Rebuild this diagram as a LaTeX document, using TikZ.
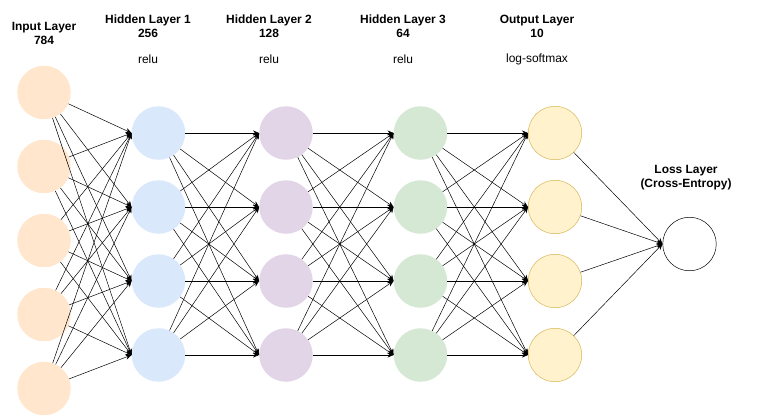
\documentclass[tikz,border=0pt]{standalone}
\usepackage{fontspec}
\setmainfont{Liberation Sans}
\usepackage{xcolor}
\usetikzlibrary{arrows.meta}

\definecolor{inputfill}{HTML}{FFE6CC}
\definecolor{hidafill}{HTML}{DAE8FC}
\definecolor{hidbfill}{HTML}{E1D5E7}
\definecolor{hidcfill}{HTML}{D5E8D4}
\definecolor{outfill}{HTML}{FFF2CC}
\definecolor{outline}{HTML}{D6B656}

\tikzset{
  neuron/.style={circle, minimum size=53.5bp, inner sep=0pt},
  title/.style={font=\bfseries\fontsize{12}{14}\selectfont, align=center, inner sep=0pt},
  actlabel/.style={font=\fontsize{12}{14}\selectfont, inner sep=0pt},
  link/.style={line width=0.5pt, -{Stealth[length=6bp,width=5bp]}}
}

\begin{document}
\begin{tikzpicture}[x=1bp, y=-1bp]
        \useasboundingbox (0,0) rectangle (770,415);

        % neurons
        \foreach \i in {0,...,4}
            \node[neuron, fill=inputfill] (in\i) at (44, 92.5+74*\i) {};
        \foreach \i in {0,...,3} {
            \node[neuron, fill=hidafill] (ha\i) at (158.5, 133+74*\i) {};
            \node[neuron, fill=hidbfill] (hb\i) at (286, 133+74*\i) {};
            \node[neuron, fill=hidcfill] (hc\i) at (420.5, 133+74*\i) {};
            \node[neuron, fill=outfill, draw=outline, line width=0.5pt] (out\i) at (555, 133+74*\i) {};
        }
        \node[neuron, fill=white, draw=black, line width=0.5pt] (loss) at (689.5, 244) {};

        % labels
        \node[title] (tin) at (44, 33) {Input Layer\\784};
        \node[title] (tha) at (148, 26) {Hidden Layer 1\\256};
        \node[title] (thb) at (269, 26) {Hidden Layer 2\\128};
        \node[title] (thc) at (403, 26) {Hidden Layer 3\\64};
        \node[title] (tout) at (537, 26) {Output Layer\\10};
        \node[actlabel] (aha) at (148, 59) {relu};
        \node[actlabel] (ahb) at (269, 59) {relu};
        \node[actlabel] (ahc) at (403, 59) {relu};
        \node[actlabel] (aout) at (537, 59) {log-softmax};
        \node[title] (tloss) at (686, 177.5) {Loss Layer\\(Cross-Entropy)};

        % connections
        \foreach \j in {0,...,3} {
            \foreach \i in {0,...,4}
                \draw[link] (in\i) -- (ha\j.west);
            \foreach \i in {0,...,3} {
                \draw[link] (ha\i) -- (hb\j.west);
                \draw[link] (hb\i) -- (hc\j.west);
                \draw[link] (hc\i) -- (out\j.west);
            }
            \draw[link] (out\j) -- (loss.west);
        }
    \end{tikzpicture}
\end{document}
